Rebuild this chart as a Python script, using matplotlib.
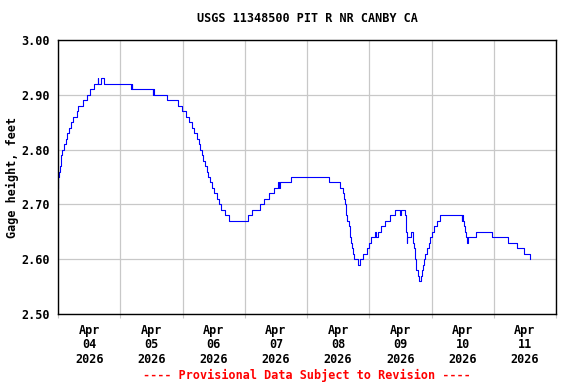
import numpy as np
import pandas as pd
import matplotlib
matplotlib.use('Agg')
import matplotlib.pyplot as plt
import matplotlib.dates as mdates

# change points of the gage height record: hours after Apr 04 2026 00:00, feet
hours = [0, 0.1, 0.4, 0.8, 1.0, 1.2, 1.7, 2.3, 2.9, 3.5, 4.1, 5.0, 5.9, 7.2, 7.9,
         9.8, 11.1, 12.4, 13.9, 15.3, 15.6, 16.5, 17.8, 28.3, 28.5, 28.7, 36.5,
         36.7, 36.9, 41.9, 46.2, 47.8, 49.2, 50.6, 51.7, 52.6, 53.5, 54.2, 54.8,
         55.4, 56.0, 56.8, 57.5, 58.0, 58.6, 59.4, 60.3, 61.2, 61.9, 62.9, 64.4,
         66.1, 73.2, 74.9, 77.7, 79.4, 81.3, 83.2, 84.8, 85.2, 85.5, 89.9, 104.5,
         108.9, 109.8, 110.4, 110.7, 110.9, 111.2, 111.6, 112.0, 112.4, 112.7,
         113.0, 113.4, 113.7, 114.1, 115.7, 116.6, 117.6, 119.0, 119.9, 120.8,
         122.1, 122.5, 123.5, 124.7, 126.0, 127.9, 129.9, 131.8, 132.4, 133.7,
         134.0, 134.1, 134.4, 134.6, 136.0, 136.9, 137.2, 137.5, 137.7, 138.0,
         138.2, 138.9, 139.3, 139.8, 140.3, 140.9, 141.2, 141.6, 142.1, 142.9,
         143.4, 144.0, 144.9, 146.0, 147.2, 155.6, 155.8, 156.0, 156.6, 157.0,
         157.3, 157.8, 158.1, 161.2, 167.2, 173.4, 177.1, 179.7, 181.8, 182.0]
gage_ft = [2.73, 2.75, 2.76, 2.77, 2.78, 2.79, 2.80, 2.81, 2.82, 2.83, 2.84, 2.85,
           2.86, 2.87, 2.88, 2.89, 2.90, 2.91, 2.92, 2.93, 2.92, 2.93, 2.92, 2.91,
           2.92, 2.91, 2.90, 2.91, 2.90, 2.89, 2.88, 2.87, 2.86, 2.85, 2.84, 2.83,
           2.82, 2.81, 2.80, 2.79, 2.78, 2.77, 2.76, 2.75, 2.74, 2.73, 2.72, 2.71,
           2.70, 2.69, 2.68, 2.67, 2.68, 2.69, 2.70, 2.71, 2.72, 2.73, 2.74, 2.73,
           2.74, 2.75, 2.74, 2.73, 2.72, 2.71, 2.70, 2.69, 2.68, 2.67, 2.66, 2.65,
           2.64, 2.63, 2.62, 2.61, 2.60, 2.59, 2.60, 2.61, 2.62, 2.63, 2.64, 2.65,
           2.64, 2.65, 2.66, 2.67, 2.68, 2.69, 2.68, 2.69, 2.68, 2.66, 2.65, 2.63,
           2.64, 2.65, 2.63, 2.62, 2.61, 2.60, 2.59, 2.58, 2.57, 2.56, 2.57, 2.58,
           2.59, 2.60, 2.61, 2.62, 2.63, 2.64, 2.65, 2.66, 2.67, 2.68, 2.67, 2.68,
           2.67, 2.66, 2.65, 2.64, 2.63, 2.64, 2.65, 2.64, 2.63, 2.62, 2.61, 2.60,
           2.60]

start = pd.Timestamp('2026-04-04 00:00')
end = pd.Timestamp('2026-04-12 00:00')
y_ticks = [2.50, 2.60, 2.70, 2.80, 2.90, 3.00]

title = 'USGS 11348500 PIT R NR CANBY CA'
ylabel = 'Gage height, feet'
footer = '---- Provisional Data Subject to Revision ----'

font = {'family': 'DejaVu Sans Mono', 'weight': 'bold', 'size': 8.5}

times = start + pd.to_timedelta(hours, unit='h')

fig = plt.figure(figsize=(5.76, 3.84), dpi=100)
ax = fig.add_axes([58 / 576, 1 - 314 / 384, 498 / 576, 274 / 384])

ax.plot(times, gage_ft, drawstyle='steps-post', color='#0000ff', lw=0.8)

ax.set_xlim(start, end)
ax.set_ylim(2.50, 3.00)

ax.xaxis.set_major_locator(mdates.DayLocator())
ax.xaxis.set_major_formatter(plt.NullFormatter())
ax.xaxis.set_minor_locator(mdates.HourLocator(byhour=[12]))
ax.xaxis.set_minor_formatter(mdates.DateFormatter('%b\n%d\n%Y'))
ax.tick_params(axis='x', which='major', length=3, color='#c8c8c8')
ax.tick_params(axis='x', which='minor', length=0, pad=7)
ax.set_yticks(y_ticks)
ax.set_yticklabels(['%.2f' % v for v in y_ticks])
ax.tick_params(axis='y', length=0, pad=6)

for lab in ax.get_xticklabels(minor=True) + ax.get_yticklabels():
    lab.set_fontproperties(font)
    lab.set_linespacing(1.15)

ax.grid(True, which='major', color='#c8c8c8', lw=0.9)
ax.set_axisbelow(True)
for sp in ax.spines.values():
    sp.set_color('black')
    sp.set_linewidth(1.0)

fig.text(307 / 576, 1 - 19 / 384, title, ha='center', va='center', fontdict=font)
fig.text(12 / 576, 1 - 177 / 384, ylabel, ha='center', va='center',
         rotation=90, fontdict=font)
fig.text(307 / 576, 1 - 375 / 384, footer, ha='center', va='center',
         color='#ff0000', fontdict=font)

fig.savefig('out.png', dpi=100)
